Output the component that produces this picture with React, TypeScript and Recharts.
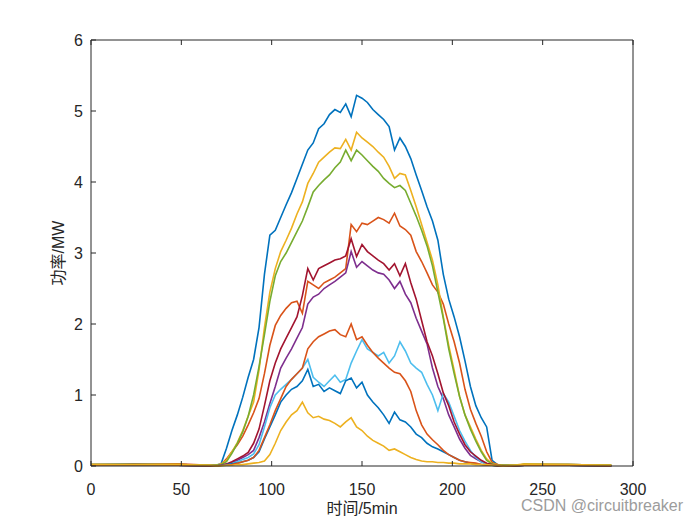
import React from "react";
import { LineChart, Line, XAxis, YAxis } from "recharts";

// x positions (5-min slots)
const XS = [
  0, 24, 48, 66,
  69, 72, 75, 78, 81, 84, 87, 90, 93, 96,
  99, 102, 105, 108, 111, 114, 117, 120, 123, 126,
  129, 132, 135, 138, 141, 144, 147, 150, 153, 156,
  159, 162, 165, 168, 171, 174, 177, 180, 183, 186,
  189, 192, 195, 198, 201, 204, 207, 210, 213, 216,
  219, 222, 225, 228,
  234, 240, 264, 288,
];

const S1 = [
  0.02, 0.03, 0.02, 0.01,
  0.01, 0.03, 0.25, 0.5, 0.72, 0.97, 1.25, 1.5, 1.95, 2.7,
  3.25, 3.32, 3.5, 3.68, 3.85, 4.05, 4.25, 4.45, 4.55, 4.75,
  4.82, 4.95, 5.02, 4.98, 5.1, 4.92, 5.22, 5.18, 5.12, 5.02,
  4.95, 4.88, 4.78, 4.45, 4.62, 4.5, 4.33, 4.1, 3.88, 3.65,
  3.45, 3.18, 2.7, 2.35, 2.1, 1.82, 1.48, 1.12, 0.85, 0.68,
  0.55, 0.08, 0.02, 0.01,
  0.01, 0.02, 0.02, 0.01,
];
const S2 = [
  0.02, 0.02, 0.03, 0.01,
  0.01, 0.02, 0.1, 0.2, 0.3, 0.42, 0.58, 0.75, 0.95, 1.3,
  1.7, 1.98, 2.12, 2.22, 2.3, 2.32, 2.15, 2.6, 2.55, 2.5,
  2.58, 2.62, 2.66, 2.72, 2.78, 3.4, 3.3, 3.42, 3.4, 3.45,
  3.5, 3.47, 3.42, 3.56, 3.38, 3.33, 3.25, 3.02, 2.88, 2.72,
  2.55, 2.45, 2.28, 2.0, 1.75, 1.45, 1.08, 0.8, 0.6, 0.42,
  0.2, 0.05, 0.02, 0.01,
  0.01, 0.02, 0.02, 0.01,
];
const S3 = [
  0.02, 0.02, 0.02, 0.01,
  0.01, 0.03, 0.08, 0.2, 0.33, 0.5, 0.7, 0.9, 1.35, 1.95,
  2.45, 2.78, 3.02, 3.18, 3.35, 3.55, 3.72, 3.98, 4.12, 4.28,
  4.35, 4.42, 4.48, 4.47, 4.6, 4.45, 4.7, 4.62, 4.56, 4.5,
  4.42, 4.35, 4.22, 4.05, 4.12, 4.1, 3.88, 3.65, 3.4, 3.15,
  2.9, 2.55, 2.1, 1.7, 1.35, 0.98, 0.72, 0.55, 0.38, 0.22,
  0.1, 0.03, 0.02, 0.01,
  0.01, 0.03, 0.02, 0.01,
];
const S4 = [
  0.01, 0.01, 0.01, 0.0,
  0.0, 0.01, 0.02, 0.05, 0.08, 0.12, 0.16, 0.22, 0.4, 0.62,
  0.88, 1.12, 1.38, 1.52, 1.65, 1.8, 1.95, 2.28, 2.38, 2.42,
  2.5, 2.55, 2.6, 2.66, 2.72, 3.02, 2.8, 2.88, 2.82, 2.76,
  2.72, 2.7, 2.62, 2.5, 2.6, 2.42, 2.3, 2.08, 1.9, 1.72,
  1.38, 1.12, 0.95, 0.72, 0.55, 0.38, 0.25, 0.15, 0.1, 0.06,
  0.03, 0.02, 0.01, 0.0,
  0.0, 0.01, 0.01, 0.0,
];
const S5 = [
  0.02, 0.02, 0.02, 0.01,
  0.01, 0.02, 0.06, 0.18, 0.32, 0.48, 0.7, 1.0, 1.4, 1.85,
  2.32, 2.68, 2.88, 3.0, 3.15, 3.3, 3.45, 3.65, 3.86, 3.95,
  4.03, 4.1, 4.2, 4.28, 4.45, 4.3, 4.45, 4.38, 4.3, 4.22,
  4.15, 4.05, 3.98, 3.92, 3.95, 3.88, 3.7, 3.52, 3.32, 3.1,
  2.82, 2.45, 2.08, 1.65, 1.3, 0.98, 0.72, 0.52, 0.35, 0.2,
  0.08, 0.03, 0.01, 0.01,
  0.01, 0.02, 0.02, 0.01,
];
const S6 = [
  0.01, 0.01, 0.01, 0.0,
  0.0, 0.01, 0.02, 0.04, 0.06, 0.09, 0.12, 0.17, 0.3, 0.55,
  0.82, 1.0, 1.08, 1.15, 1.22, 1.3, 1.38, 1.5, 1.25, 1.18,
  1.12, 1.2, 1.28, 1.18, 1.22, 1.45, 1.62, 1.78, 1.65, 1.6,
  1.55, 1.6, 1.45, 1.55, 1.75, 1.62, 1.45, 1.38, 1.32, 1.15,
  1.0, 0.78, 1.02, 0.9, 0.7, 0.5, 0.35, 0.22, 0.12, 0.06,
  0.03, 0.01, 0.0, 0.0,
  0.0, 0.01, 0.01, 0.0,
];
const S7 = [
  0.01, 0.01, 0.01, 0.0,
  0.0, 0.01, 0.03, 0.06, 0.1, 0.14, 0.19, 0.32, 0.52, 0.85,
  1.2, 1.45, 1.65, 1.8, 1.95, 2.1, 2.4, 2.78, 2.62, 2.78,
  2.82, 2.86, 2.9, 2.92, 2.96, 3.2, 2.95, 3.12, 3.02, 2.96,
  2.9, 2.85, 2.76, 2.85, 2.68, 2.85, 2.58, 2.35, 2.05, 1.75,
  1.55, 1.3, 1.03, 0.85, 0.62, 0.45, 0.3, 0.2, 0.14, 0.08,
  0.04, 0.02, 0.01, 0.0,
  0.0, 0.01, 0.01, 0.0,
];
const S8 = [
  0.01, 0.01, 0.01, 0.0,
  0.0, 0.01, 0.02, 0.03, 0.04, 0.06, 0.08, 0.12, 0.2, 0.38,
  0.55, 0.72, 0.9, 1.0, 1.08, 1.12, 1.2, 1.36, 1.12, 1.15,
  1.05, 1.1, 1.06, 1.02, 1.2, 1.24, 1.1, 1.18, 1.0, 0.9,
  0.82, 0.72, 0.6, 0.76, 0.65, 0.62, 0.55, 0.45, 0.4, 0.32,
  0.27, 0.24, 0.2, 0.16, 0.12, 0.08, 0.06, 0.04, 0.03, 0.02,
  0.01, 0.01, 0.0, 0.0,
  0.0, 0.01, 0.01, 0.0,
];
const S9 = [
  0.01, 0.02, 0.01, 0.0,
  0.0, 0.01, 0.01, 0.02, 0.04, 0.06, 0.08, 0.12, 0.22, 0.4,
  0.58, 0.78, 0.95, 1.12, 1.22, 1.3, 1.38, 1.65, 1.75, 1.82,
  1.86, 1.9, 1.92, 1.85, 1.82, 2.0, 1.78, 1.82, 1.7, 1.6,
  1.52, 1.45, 1.38, 1.32, 1.3, 1.2, 1.05, 0.78, 0.58, 0.45,
  0.37, 0.3, 0.22, 0.16, 0.12, 0.08, 0.06, 0.05, 0.04, 0.02,
  0.01, 0.01, 0.0, 0.0,
  0.0, 0.01, 0.01, 0.0,
];
const S10 = [
  0.02, 0.02, 0.02, 0.01,
  0.0, 0.0, 0.01, 0.01, 0.02, 0.02, 0.03, 0.04, 0.05, 0.07,
  0.16, 0.32, 0.5, 0.62, 0.72, 0.78, 0.9, 0.75, 0.68, 0.7,
  0.66, 0.64, 0.6, 0.55, 0.62, 0.68, 0.55, 0.5, 0.42, 0.36,
  0.32, 0.28, 0.22, 0.24, 0.2, 0.16, 0.12, 0.09, 0.07, 0.06,
  0.06, 0.05, 0.05, 0.04, 0.04, 0.03, 0.03, 0.03, 0.02, 0.02,
  0.02, 0.01, 0.01, 0.0,
  0.01, 0.02, 0.02, 0.01,
];

const SERIES = [S1, S2, S3, S4, S5, S6, S7, S8, S9, S10];
// MATLAB default colour order, wraps after 7
const COLORS = [
  "#0072BD", "#D95319", "#EDB120", "#7E2F8E", "#77AC30",
  "#4DBEEE", "#A2142F", "#0072BD", "#D95319", "#EDB120",
];
const X_TICKS = [0, 50, 100, 150, 200, 250, 300];
const Y_TICKS = [0, 1, 2, 3, 4, 5, 6];

const FONT = '"Liberation Sans", Arial, "Noto Sans CJK SC", sans-serif';
const INK = "#262626";
const TICK_LEN = 5;
const GAP_X = 17; // label gap below x axis
const GAP_Y = 8; // label gap left of y axis

// ticks pointing into the plot, MATLAB style
function BottomTick(props: any) {
  const { x, y, payload } = props;
  const axisY = y - GAP_X;
  return (
    <g>
      <line x1={x} x2={x} y1={axisY} y2={axisY - TICK_LEN} stroke={INK} />
      <text x={x} y={y + 12} textAnchor="middle" fill={INK} fontSize={16} fontFamily={FONT}>
        {payload.value}
      </text>
    </g>
  );
}

function TopTick(props: any) {
  const { x, y } = props;
  const axisY = y + GAP_X;
  return <line x1={x} x2={x} y1={axisY} y2={axisY + TICK_LEN} stroke={INK} />;
}

function LeftTick(props: any) {
  const { x, y, payload } = props;
  const axisX = x + GAP_Y;
  return (
    <g>
      <line x1={axisX} x2={axisX + TICK_LEN} y1={y} y2={y} stroke={INK} />
      <text x={x} y={y + 6} textAnchor="end" fill={INK} fontSize={16} fontFamily={FONT}>
        {payload.value}
      </text>
    </g>
  );
}

function RightTick(props: any) {
  const { x, y } = props;
  const axisX = x - GAP_Y;
  return <line x1={axisX} x2={axisX - TICK_LEN} y1={y} y2={y} stroke={INK} />;
}

export default function App() {
  const data = XS.map((x, i) => {
    const row: Record<string, number> = { x };
    SERIES.forEach((s, k) => {
      row["s" + k] = s[i];
    });
    return row;
  });

  return (
    <div
      style={{
        position: "absolute",
        left: 0,
        top: 0,
        width: 700,
        height: 525,
        background: "#fff",
        fontFamily: FONT,
      }}
    >
      <LineChart
        width={700}
        height={525}
        data={data}
        margin={{ top: 39, right: 66, bottom: 0, left: 0 }}
      >
        <XAxis
          dataKey="x"
          type="number"
          domain={[0, 300]}
          ticks={X_TICKS}
          height={59}
          tickSize={0}
          tickMargin={GAP_X}
          tickLine={false}
          stroke={INK}
          tick={<BottomTick />}
          label={{
            value: "时间/5min",
            position: "insideBottom",
            offset: 11,
            style: { fill: INK, fontSize: 16, fontFamily: FONT },
          }}
        />
        <XAxis
          xAxisId="top"
          orientation="top"
          dataKey="x"
          type="number"
          domain={[0, 300]}
          ticks={X_TICKS}
          height={1}
          tickSize={0}
          tickMargin={GAP_X}
          tickLine={false}
          stroke={INK}
          tick={<TopTick />}
        />
        <YAxis
          type="number"
          domain={[0, 6]}
          ticks={Y_TICKS}
          width={91}
          tickSize={0}
          tickMargin={GAP_Y}
          tickLine={false}
          stroke={INK}
          tick={<LeftTick />}
          label={{
            value: "功率/MW",
            angle: -90,
            position: "insideLeft",
            offset: 58,
            style: { fill: INK, fontSize: 16, fontFamily: FONT, textAnchor: "middle" },
          }}
        />
        <YAxis
          yAxisId="right"
          orientation="right"
          type="number"
          domain={[0, 6]}
          ticks={Y_TICKS}
          width={1}
          tickSize={0}
          tickMargin={GAP_Y}
          tickLine={false}
          stroke={INK}
          tick={<RightTick />}
        />
        {SERIES.map((_, k) => (
          <Line
            key={k}
            type="linear"
            dataKey={"s" + k}
            stroke={COLORS[k]}
            strokeWidth={1.6}
            dot={false}
            isAnimationActive={false}
          />
        ))}
      </LineChart>
      <div
        style={{
          position: "absolute",
          left: 521,
          top: 497,
          fontSize: 16,
          color: "#9c9c9c",
          fontFamily: FONT,
          whiteSpace: "nowrap",
        }}
      >
        CSDN @circuitbreaker
      </div>
    </div>
  );
}
